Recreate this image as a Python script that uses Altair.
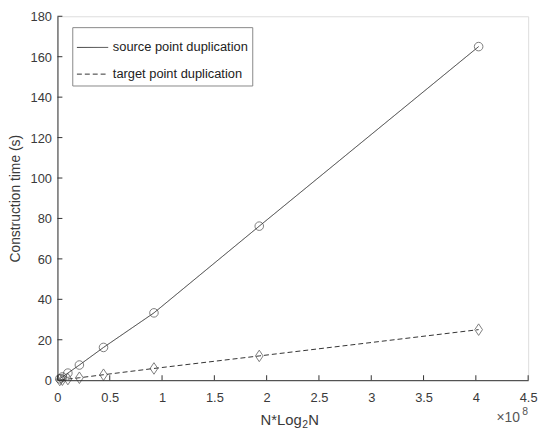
import altair as alt
import pandas as pd

# N*log2(N) in units of 1e8
x_vals = [0.0223, 0.0472, 0.0996, 0.2097, 0.4404, 0.9227, 1.9294, 4.0265]
source_t = [0.7, 1.6, 3.5, 7.5, 16.2, 33.3, 76.2, 165.0]
target_t = [0.1, 0.25, 0.55, 1.2, 2.7, 5.8, 12.0, 25.0]
series = ["source point duplication", "target point duplication"]
y_ticks = [0, 20, 40, 60, 80, 100, 120, 140, 160, 180]
x_ticks = [0, 0.5, 1, 1.5, 2, 2.5, 3, 3.5, 4, 4.5]

W, H = 476, 368
FONT = "Liberation Sans"
INK = "#333333"
TXT = "#3a3a3a"

rows = []
for x, s, t in zip(x_vals, source_t, target_t):
    rows.append({"x": x, "y": s, "series": series[0], "marker": series[0]})
    rows.append({"x": x, "y": t, "series": series[1], "marker": series[1]})
df = pd.DataFrame(rows)

xs = alt.Scale(domain=[0, 4.5], nice=False)
ys = alt.Scale(domain=[0, 180], nice=False)

xenc = alt.X("x:Q", scale=xs, axis=alt.Axis(
    values=x_ticks, format="~g", title=None, grid=False, ticks=False,
    domainColor=INK, labelColor=TXT, labelFont=FONT, labelFontSize=13,
    labelPadding=12, labelFlush=False))
yenc = alt.Y("y:Q", scale=ys, axis=alt.Axis(
    values=y_ticks, title="Construction time (s)", grid=False, ticks=False,
    domainColor=INK, labelColor=TXT, labelFont=FONT, labelFontSize=13,
    labelPadding=6, labelOffset=0.5, titleFont=FONT, titleFontSize=14,
    titleFontWeight="normal", titleColor=TXT, titlePadding=8, labelFlush=False))

dash_scale = alt.Scale(domain=series, range=[[1, 0], [5, 3]])
shape_scale = alt.Scale(domain=series,
                        range=["circle", "M0,-1.35L0.9,0L0,1.35L-0.9,0Z"])

lines = alt.Chart(df).mark_line(color=INK, strokeWidth=1).encode(
    x=xenc, y=yenc,
    strokeDash=alt.StrokeDash("series:N", scale=dash_scale, legend=alt.Legend(
        title=None, orient="none", legendX=15, legendY=11,
        symbolType="stroke", symbolStrokeColor=INK, symbolSize=1000,
        symbolStrokeWidth=1, labelFont=FONT, labelFontSize=13, labelColor="#222222",
        fillColor="white", strokeColor="#888888", padding=4, rowPadding=3,
        labelOffset=4)),
)

points = alt.Chart(df).mark_point(filled=False, color=INK, size=75, strokeWidth=0.9).encode(
    x="x:Q", y="y:Q",
    shape=alt.Shape("marker:N", scale=shape_scale, legend=None),
)

ytick_df = pd.DataFrame({"v": y_ticks})
xtick_df = pd.DataFrame({"v": x_ticks})
yticks = alt.Chart(ytick_df).mark_rule(color=INK, strokeWidth=1).encode(
    y=alt.Y("v:Q", scale=ys), x=alt.value(0), x2=alt.value(5))
xticks = alt.Chart(xtick_df).mark_rule(color=INK, strokeWidth=1).encode(
    x=alt.X("v:Q", scale=xs), y=alt.value(H), y2=alt.value(H - 5))

def label(txt, x, y, size, align, color=TXT):
    return alt.Chart(pd.DataFrame({"t": [txt]})).mark_text(
        font=FONT, fontSize=size, color=color, align=align, baseline="middle").encode(
        text="t:N", x=alt.value(x), y=alt.value(y))

xt1 = label("N*Log", 247, H + 40, 15, "right")
xt2 = label("2", 247.5, H + 45, 10.5, "left")
xt3 = label("N", 253.5, H + 40, 15, "left")
exp_txt = label("\u00d710", W - 32, H + 38, 14, "left", "#555555")
exp_sup = label("8", W - 6, H + 32, 10.5, "left", "#555555")

chart = alt.layer(yticks, xticks, lines, points, xt1, xt2, xt3, exp_txt, exp_sup).resolve_legend(
    shape="independent", strokeDash="independent"
).properties(
    width=W, height=H,
    autosize=alt.AutoSizeParams(type="none"),
    padding={"left": 50, "top": 6, "right": 14, "bottom": 48},
).configure_view(stroke=None).configure(background="white")

chart.save("out.html", embed_options={"renderer": "svg", "actions": False})
